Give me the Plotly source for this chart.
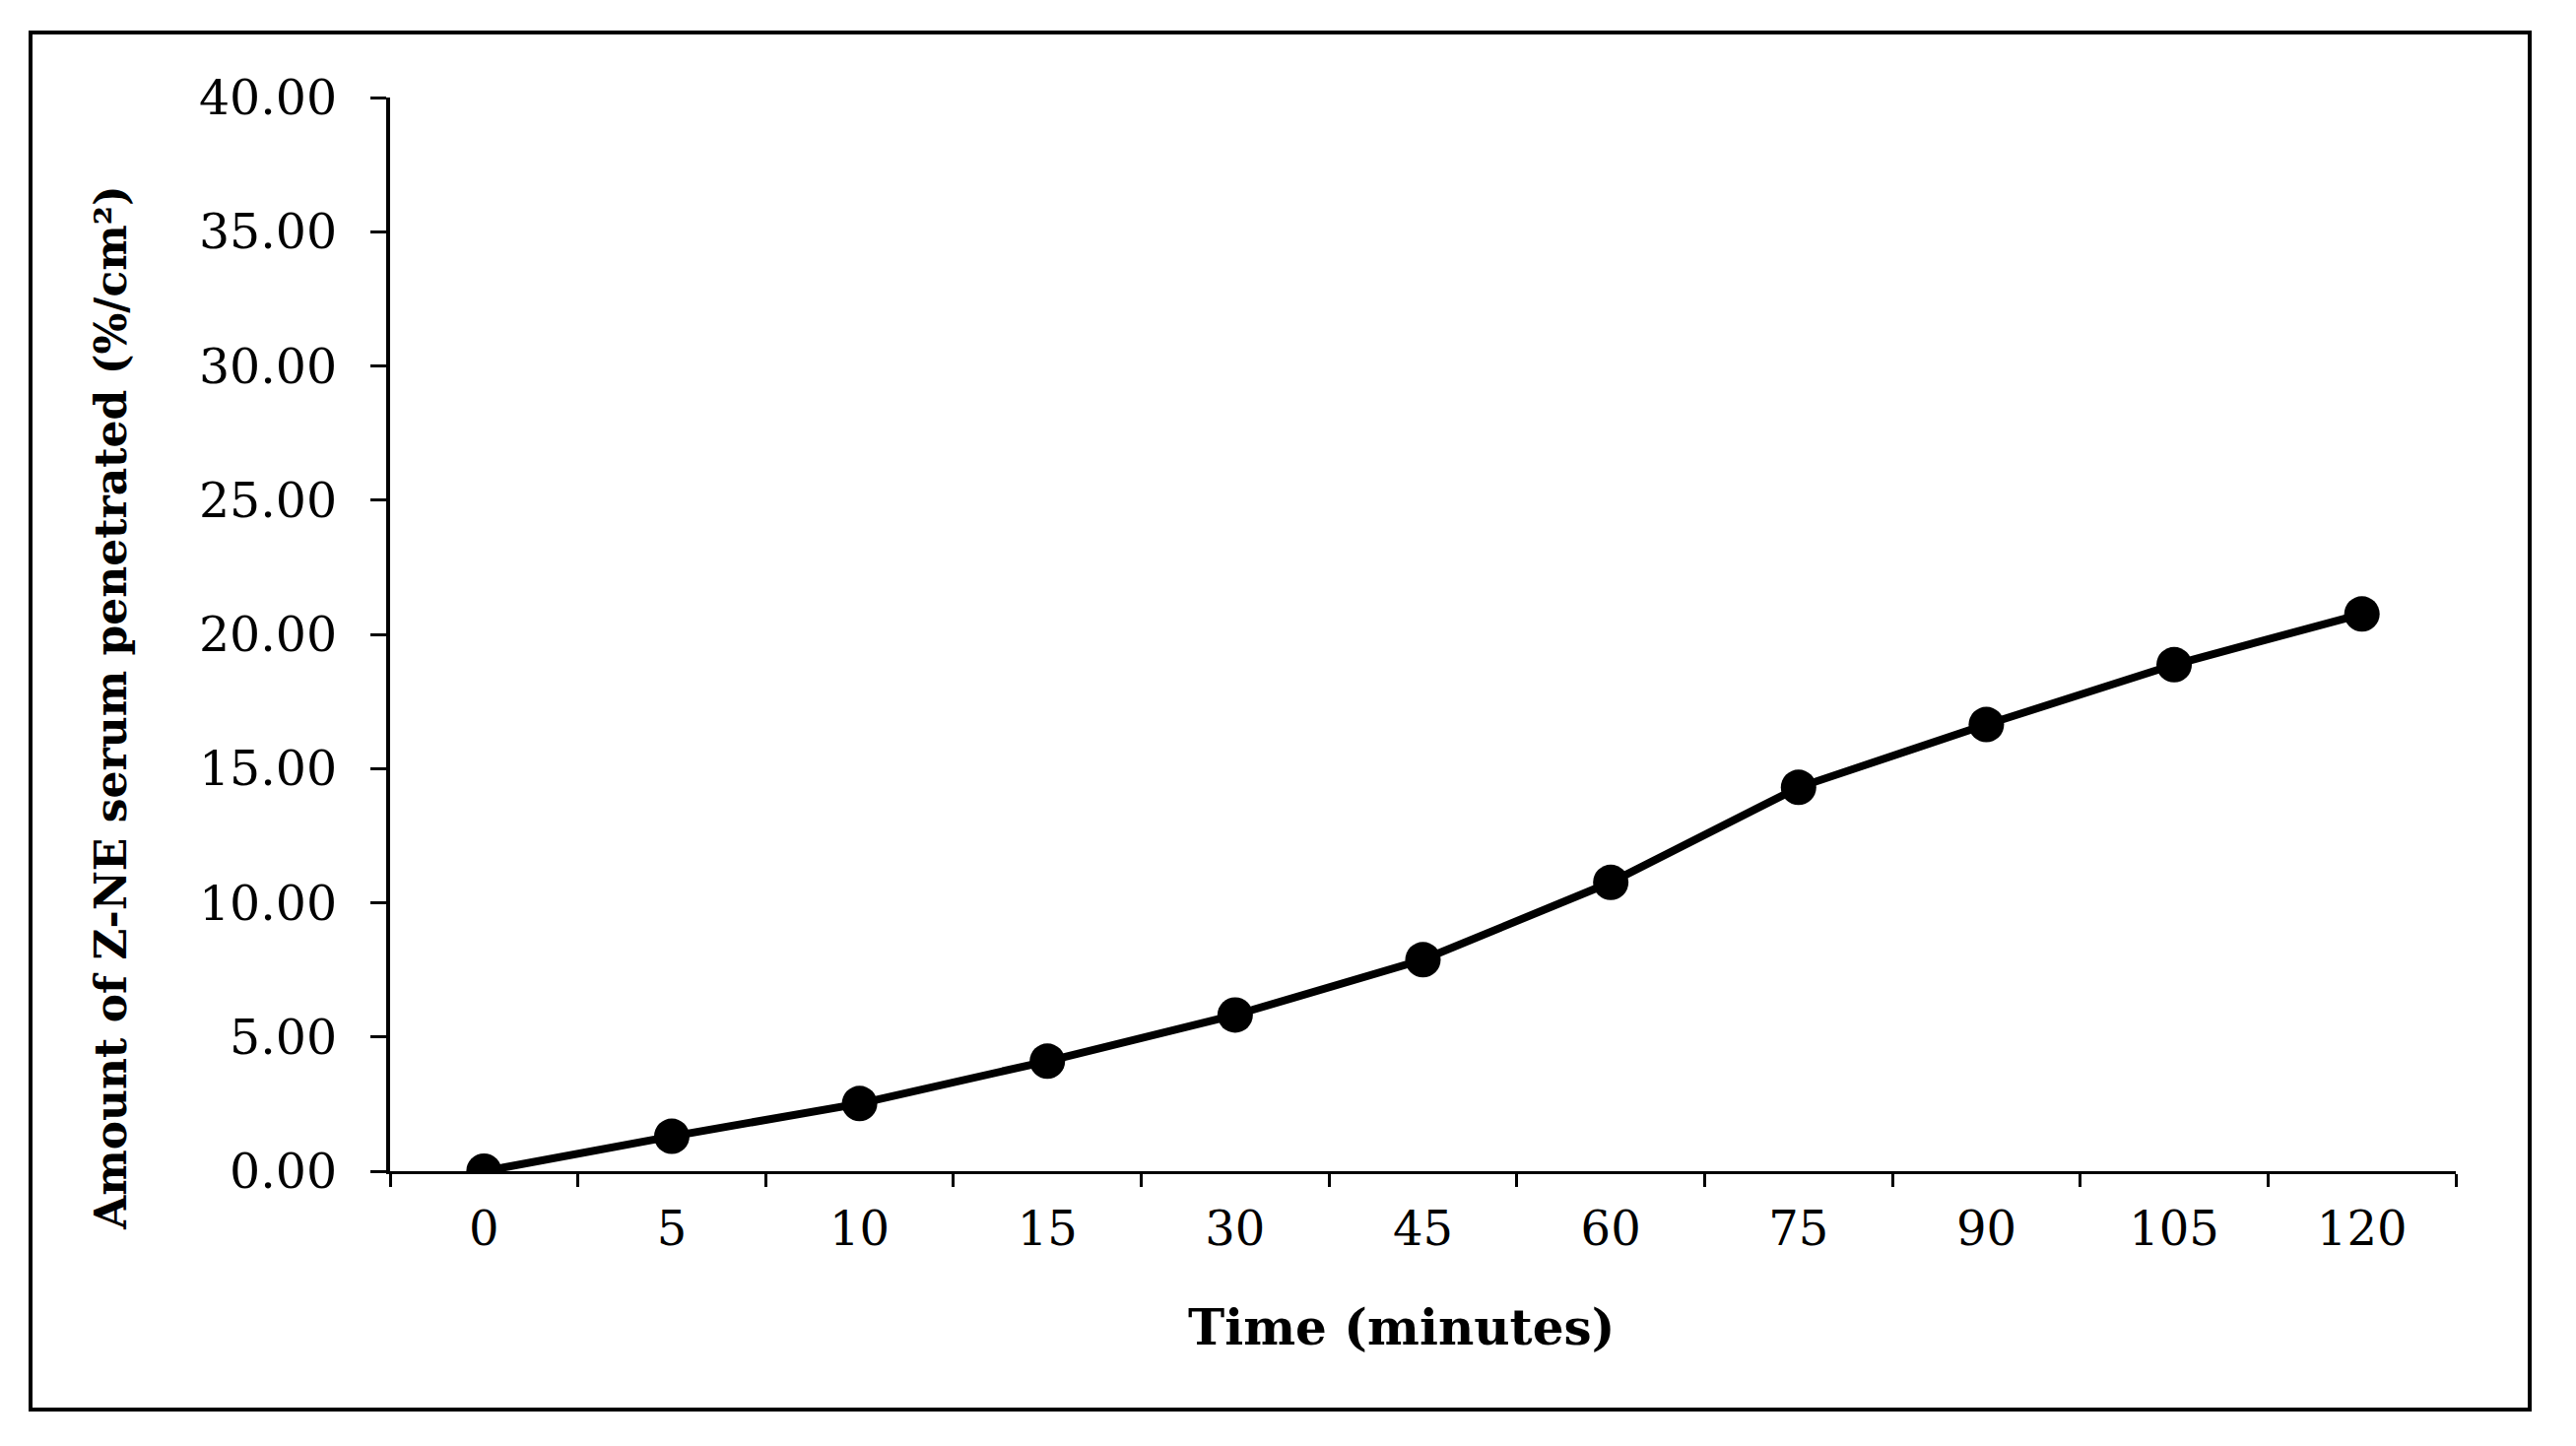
import plotly.graph_objects as go

time_labels = ["0", "5", "10", "15", "30", "45", "60", "75", "90", "105", "120"]
amount_penetrated = [0.00, 1.30, 2.52, 4.10, 5.82, 7.88, 10.76, 14.30, 16.64, 18.87, 20.76]
y_ticks = [0, 5, 10, 15, 20, 25, 30, 35, 40]

W, H = 2615, 1468
OFF = 8  # page body margin offset
L, R, T, B = 396 - OFF, 2493 - OFF, 99 - OFF, 1189 - OFF
pw, ph = R - L, B - T

def px(x):
    return (x - OFF - L) / pw

def py(y):
    return (B - (y - OFF)) / ph

FONT = "DejaVu Serif"

fig = go.Figure()
fig.add_trace(go.Scatter(
    x=time_labels, y=amount_penetrated, mode="lines+markers",
    line=dict(color="black", width=8),
    marker=dict(color="black", size=36),
    showlegend=False,
))

fig.update_layout(
    width=W, height=H,
    margin=dict(l=L, r=W - R, t=T, b=H - B),
    paper_bgcolor="white", plot_bgcolor="white",
    font=dict(family=FONT, color="black", size=48),
    xaxis=dict(
        type="category", range=[-0.5, len(time_labels) - 0.5],
        tickson="boundaries", ticks="outside", ticklen=13, tickwidth=3,
        tickcolor="black", showline=True, linecolor="black", linewidth=3,
        showgrid=False, zeroline=False,
        tickfont=dict(family=FONT, size=48, color="black"),
        ticklabelstandoff=14,
    ),
    yaxis=dict(
        range=[0, 40], tickvals=y_ticks, tickformat=".2f",
        ticks="outside", ticklen=16, tickwidth=3, tickcolor="black",
        showline=True, linecolor="black", linewidth=4,
        showgrid=False, zeroline=False,
        tickfont=dict(family=FONT, size=49, color="black"),
        ticklabelstandoff=24,
    ),
    shapes=[dict(
        type="rect", xref="paper", yref="paper",
        x0=px(31), x1=px(2568), y0=py(1431), y1=py(33),
        line=dict(color="black", width=4), fillcolor="rgba(0,0,0,0)",
        layer="below",
    )],
    annotations=[
        dict(text="<b>Amount of Z-NE serum penetrated (%/cm²)</b>",
             xref="paper", yref="paper", x=px(113), y=py(719),
             xanchor="center", yanchor="middle", textangle=-90,
             showarrow=False, font=dict(family=FONT, size=44, color="black")),
        dict(text="<b>Time (minutes)</b>",
             xref="paper", yref="paper", x=px(1422), y=py(1347),
             xanchor="center", yanchor="middle",
             showarrow=False, font=dict(family=FONT, size=50, color="black")),
    ],
)

fig.write_html("out.html")
